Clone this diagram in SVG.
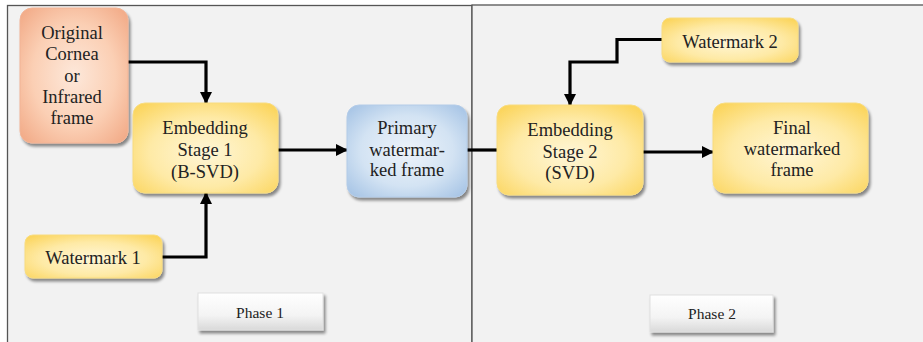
<svg xmlns="http://www.w3.org/2000/svg" width="923" height="342" viewBox="0 0 923 342">
  <defs>
    <radialGradient id="gYellow" cx="50%" cy="55%" r="70%">
      <stop offset="0" stop-color="#fff6d6"/>
      <stop offset="0.55" stop-color="#feeaa6"/>
      <stop offset="1" stop-color="#fbd45a"/>
    </radialGradient>
    <radialGradient id="gOrange" cx="50%" cy="50%" r="70%">
      <stop offset="0" stop-color="#fde8da"/>
      <stop offset="0.55" stop-color="#fbcfb4"/>
      <stop offset="1" stop-color="#f1a783"/>
    </radialGradient>
    <radialGradient id="gBlue" cx="50%" cy="50%" r="70%">
      <stop offset="0" stop-color="#edf3fa"/>
      <stop offset="0.55" stop-color="#d3e3f3"/>
      <stop offset="1" stop-color="#a2c1e4"/>
    </radialGradient>
    <linearGradient id="gPhase" x1="0" y1="0" x2="0" y2="1">
      <stop offset="0" stop-color="#ffffff"/>
      <stop offset="0.6" stop-color="#f4f4f4"/>
      <stop offset="1" stop-color="#d9d9d9"/>
    </linearGradient>
    <filter id="shadow" x="-10%" y="-10%" width="125%" height="130%">
      <feGaussianBlur in="SourceAlpha" stdDeviation="1.6"/>
      <feOffset dx="1.5" dy="3" result="b"/>
      <feComponentTransfer><feFuncA type="linear" slope="0.45"/></feComponentTransfer>
      <feMerge><feMergeNode/><feMergeNode in="SourceGraphic"/></feMerge>
    </filter>
    <marker id="arrow" viewBox="0 0 12 12" refX="11" refY="6" markerWidth="12" markerHeight="12" markerUnits="userSpaceOnUse" orient="auto">
      <path d="M0,0 L12,6 L0,12 Z" fill="#000"/>
    </marker>
  </defs>
  <style>
    .panel { fill: #f2f2f2; stroke: #555; stroke-width: 1.3; }
    .box { stroke-width: 1; filter: url(#shadow); }
    .yellow { fill: url(#gYellow); stroke: #f8dc80; }
    .orange { fill: url(#gOrange); stroke: #f2b496; }
    .blue { fill: url(#gBlue); stroke: #b4cce8; }
    .phase { fill: url(#gPhase); stroke: #e0e0e0; }
    text { font-family: "Liberation Serif", "DejaVu Serif", "Times New Roman", Times, serif; font-size: 18.5px; fill: #222; text-anchor: middle; }
    .small { font-size: 15.5px; }
    .conn { fill: none; stroke: #000; stroke-width: 3.2; stroke-linejoin: miter; }
  </style>

  <rect x="0" y="0" width="923" height="342" fill="#ffffff"/>

  <!-- two phase panels -->
  <g id="panels">
    <rect class="panel" x="7.5" y="5.5" width="464.5" height="340"/>
    <rect class="panel" x="472" y="5" width="455" height="340.5"/>
  </g>

  <!-- connectors -->
  <g id="connectors">
    <path class="conn" d="M128,62 H206 V103" marker-end="url(#arrow)"/>
    <path class="conn" d="M162,257 H206 V193" marker-end="url(#arrow)"/>
    <path class="conn" d="M278,150 H347" marker-end="url(#arrow)"/>
    <path class="conn" d="M467,150 H497"/>
    <path class="conn" d="M662,39.5 H617 V62 H570 V105" marker-end="url(#arrow)"/>
    <path class="conn" d="M643,152 H713" marker-end="url(#arrow)"/>
  </g>

  <g id="original">
    <rect class="box orange" x="20" y="8" width="108" height="135" rx="12"/>
    <text x="72" y="39">Original</text>
    <text x="72" y="60">Cornea</text>
    <text x="72" y="82">or</text>
    <text x="72" y="103">Infrared</text>
    <text x="72" y="124">frame</text>
  </g>

  <g id="embed1">
    <rect class="box yellow" x="133" y="103" width="145" height="90" rx="12"/>
    <text x="205" y="134">Embedding</text>
    <text x="205" y="156">Stage 1</text>
    <text x="205" y="178">(B-SVD)</text>
  </g>

  <g id="primary">
    <rect class="box blue" x="347" y="105" width="120" height="92" rx="12"/>
    <text x="407" y="134">Primary</text>
    <text x="407" y="156">watermar-</text>
    <text x="407" y="176">ked frame</text>
  </g>

  <g id="watermark1">
    <rect class="box yellow" x="25" y="235" width="137" height="43" rx="8"/>
    <text x="93" y="264">Watermark 1</text>
  </g>

  <g id="phase1">
    <rect class="box phase" x="198" y="293" width="125" height="37"/>
    <text class="small" x="260" y="318">Phase 1</text>
  </g>

  <g id="watermark2">
    <rect class="box yellow" x="662" y="18" width="136" height="44" rx="8"/>
    <text x="730" y="48">Watermark 2</text>
  </g>

  <g id="embed2">
    <rect class="box yellow" x="497" y="105" width="146" height="90" rx="12"/>
    <text x="570" y="136">Embedding</text>
    <text x="570" y="158">Stage 2</text>
    <text x="570" y="179">(SVD)</text>
  </g>

  <g id="final">
    <rect class="box yellow" x="713" y="103" width="155" height="90" rx="12"/>
    <text x="792" y="134">Final</text>
    <text x="792" y="155">watermarked</text>
    <text x="792" y="176">frame</text>
  </g>

  <g id="phase2">
    <rect class="box phase" x="650" y="295" width="123" height="37"/>
    <text class="small" x="712" y="319">Phase 2</text>
  </g>
</svg>
